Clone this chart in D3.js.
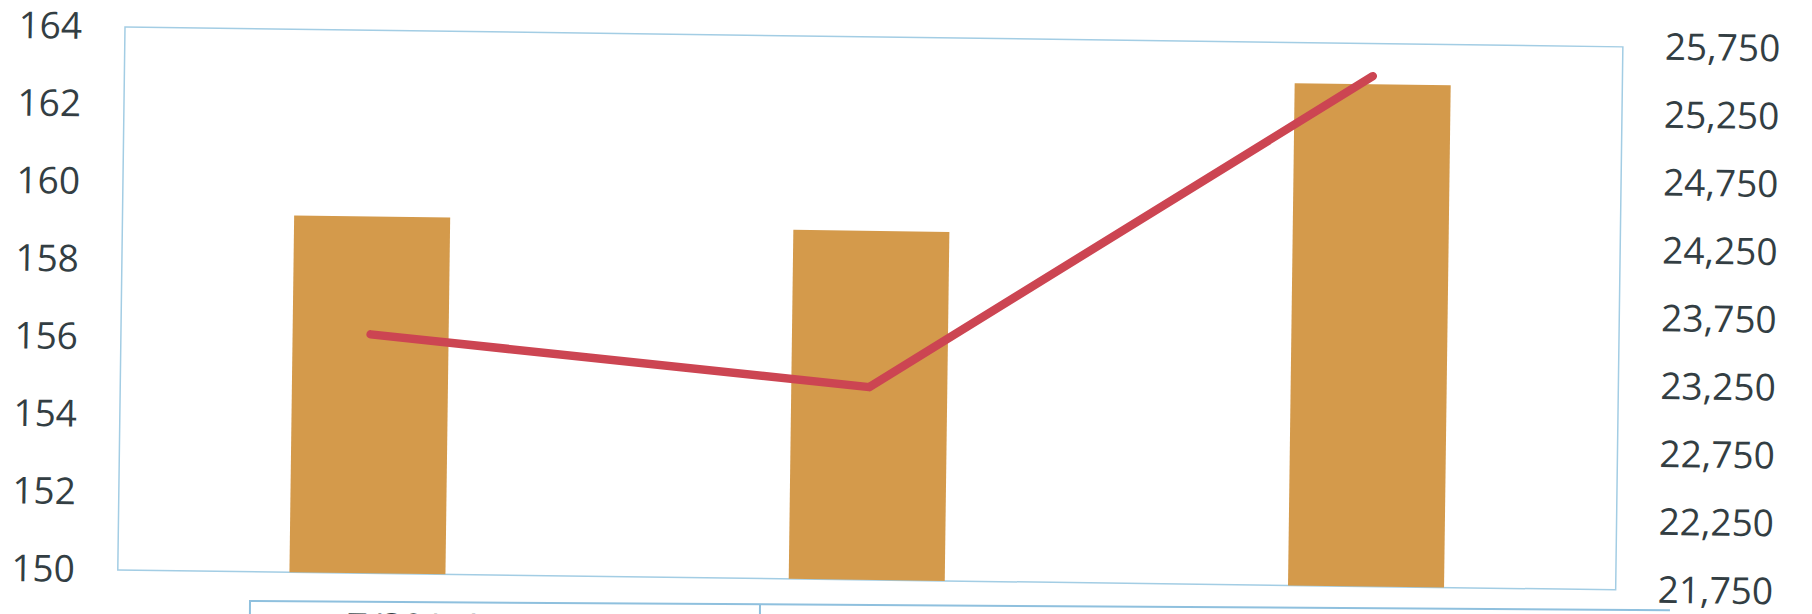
<!DOCTYPE html>
<html>
<head>
<meta charset="utf-8">
<script src="https://cdn.jsdelivr.net/npm/d3@7"></script>
<style>
  body { margin: 0; background: #fff; }
  .eje text { font-family: 'Open Sans', sans-serif; font-size: 37px; fill: #333e43; }
</style>
</head>
<body>
<div id="graf"></div>
<script>
// datos
const categorias = ['7/30/14', '8/30/14', '9/30/14']
const valoresBarras = [159.2, 159.0, 162.95]
const valoresLinea = [23510, 23170, 25510]
const ticksIzq = [150, 152, 154, 156, 158, 160, 162, 164]
const ticksDer = [21750, 22250, 22750, 23250, 23750, 24250, 24750, 25250, 25750]

// tamano y margenes
const anchoTotal = 1812
const altoTotal = 614
const margins = { top: 27, left: 125 }
const ancho = 1498
const alto = 543

const svg = d3.select('#graf').append('svg')
  .attr('width', anchoTotal)
  .attr('height', altoTotal)
  .style('display', 'block')

// la imagen original esta un poco girada (escaneo)
const g = svg.append('g')
  .attr('transform', `translate(${margins.left}, ${margins.top}) rotate(0.76)`)

// escalas
const x = d3.scaleBand()
  .domain(categorias)
  .range([0, ancho])
  .paddingInner(0.6875)
  .paddingOuter(0.34375)

const yIzq = d3.scaleLinear().domain([150, 164]).range([alto, 0])
const yDer = d3.scaleLinear().domain([21750, 25750]).range([alto, 0])

// borde del area de trazado
g.append('rect')
  .attr('x', 0).attr('y', 0)
  .attr('width', ancho).attr('height', alto)
  .attr('fill', 'none')
  .attr('stroke', '#a3cde4')
  .attr('stroke-width', 1.5)

// barras
g.selectAll('rect.barra')
  .data(categorias)
  .enter()
  .append('rect')
    .attr('class', 'barra')
    .attr('x', d => x(d))
    .attr('width', x.bandwidth())
    .attr('y', (d, i) => yIzq(valoresBarras[i]))
    .attr('height', (d, i) => alto - yIzq(valoresBarras[i]))
    .attr('fill', '#d49a4b')

// linea
const linea = d3.line()
  .x((d, i) => x(categorias[i]) + x.bandwidth() / 2)
  .y(d => yDer(d))

g.append('path')
  .datum(valoresLinea)
  .attr('d', linea)
  .attr('fill', 'none')
  .attr('stroke', '#cc4552')
  .attr('stroke-width', 8.5)
  .attr('stroke-linecap', 'round')
  .attr('stroke-linejoin', 'round')

// ejes
const ejeIzq = d3.axisLeft(yIzq)
  .tickValues(ticksIzq)
  .tickSize(0)
  .tickPadding(43)
  .tickFormat(d => d + '')
g.append('g').attr('class', 'eje').call(ejeIzq)
  .call(s => s.select('.domain').remove())

const ejeDer = d3.axisRight(yDer)
  .tickValues(ticksDer)
  .tickSize(0)
  .tickPadding(42)
  .tickFormat(d3.format(','))
g.append('g').attr('class', 'eje')
  .attr('transform', `translate(${ancho}, 0)`)
  .call(ejeDer)
  .call(s => s.select('.domain').remove())

// tabla de abajo (cortada en la imagen)
const tabla = svg.append('g').attr('transform', 'translate(250, 601) rotate(0.37)')
tabla.append('path')
  .attr('d', 'M0,40 V0 H1420')
  .attr('fill', 'none')
  .attr('stroke', '#8fc0de')
  .attr('stroke-width', 2)
tabla.append('line')
  .attr('x1', 510).attr('x2', 510)
  .attr('y1', 0).attr('y2', 40)
  .attr('stroke', '#8fc0de')
  .attr('stroke-width', 2)
tabla.append('text')
  .attr('x', 97)
  .attr('y', 38)
  .style('font-family', "'Open Sans', sans-serif")
  .style('font-size', '37px')
  .style('fill', '#333e43')
  .text(categorias[0])
</script>
</body>
</html>
